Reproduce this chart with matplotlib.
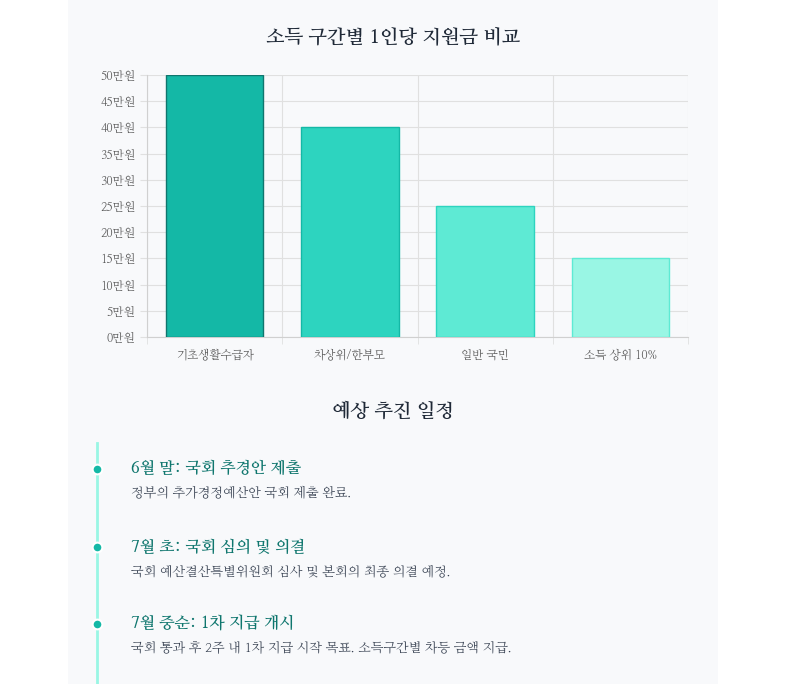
import matplotlib
matplotlib.use("Agg")
import matplotlib.pyplot as plt
from matplotlib import font_manager
from matplotlib.patches import Rectangle
from matplotlib.lines import Line2D

cjk = [f.name for f in font_manager.fontManager.ttflist if "CJK" in f.name or "Nanum" in f.name]
kr = [n for n in cjk if "KR" in n] + cjk
plt.rcParams["font.family"] = "sans-serif"
plt.rcParams["font.sans-serif"] = kr + ["Noto Sans CJK KR", "DejaVu Sans"]

categories = ["기초생활수급자", "차상위/한부모", "일반 국민", "소득 상위 10%"]
amounts = [50, 40, 25, 15]
bar_colors = ["#14b8a6", "#2dd4bf", "#5eead4", "#99f6e4"]
edge_colors = ["#0f766e", "#14b8a6", "#2dd4bf", "#5eead4"]

timeline_titles = ["6월 말: 국회 추경안 제출", "7월 초: 국회 심의 및 의결", "7월 중순: 1차 지급 개시"]
timeline_texts = [
    "정부의 추가경정예산안 국회 제출 완료.",
    "국회 예산결산특별위원회 심사 및 본회의 최종 의결 예정.",
    "국회 통과 후 2주 내 1차 지급 시작 목표. 소득구간별 차등 금액 지급.",
]

W, H = 790, 684
fig = plt.figure(figsize=(W / 100, H / 100), dpi=100)
fig.patches.append(Rectangle((68 / W, 0), 650 / W, 1, transform=fig.transFigure,
                             facecolor="#f8f9fb", edgecolor="none", zorder=-10))

def fx(x): return x / W
def fy(y): return 1 - y / H

fig.text(fx(393), fy(37), "소득 구간별 1인당 지원금 비교", ha="center", va="center",
         fontsize=14, fontweight="bold", color="#1f2937")

ax = fig.add_axes([fx(147), fy(337), (688 - 147) / W, (337 - 75) / H])
ax.set_facecolor("none")
x = range(len(categories))
ax.bar(x, amounts, width=0.72, color=bar_colors, edgecolor=edge_colors, linewidth=1, zorder=3)
ax.set_xlim(-0.5, len(categories) - 0.5)
ax.set_ylim(0, 50)
ax.set_yticks(range(0, 51, 5))
ax.set_yticklabels([f"{v}만원" for v in range(0, 51, 5)], fontsize=8.5, color="#555555")
ax.set_xticks(list(x))
ax.set_xticklabels(categories, fontsize=8.5, color="#555555")
ax.set_xticks([i + 0.5 for i in range(-1, len(categories))], minor=True)
ax.grid(axis="y", color="#e0e0e0", linewidth=0.8, zorder=0)
ax.grid(axis="x", which="minor", color="#e0e0e0", linewidth=0.8, zorder=0)
ax.tick_params(axis="x", which="major", length=0, pad=8)
ax.tick_params(axis="x", which="minor", length=5, color="#e0e0e0")
ax.tick_params(axis="y", length=5, color="#e0e0e0")
for s in ["top", "right"]:
    ax.spines[s].set_visible(False)
for s in ["left", "bottom"]:
    ax.spines[s].set_color("#d0d0d0")

fig.text(fx(393), fy(412), "예상 추진 일정", ha="center", va="center",
         fontsize=14, fontweight="bold", color="#1f2937")

fig.add_artist(Line2D([fx(97), fx(97)], [fy(443), fy(684)], color="#99f6e4", linewidth=2,
                      transform=fig.transFigure))
ys = [469, 547, 624]
for y, t, d in zip(ys, timeline_titles, timeline_texts):
    fig.add_artist(Line2D([fx(97)], [fy(y)], marker="o", markersize=7, color="#14b8a6",
                          markeredgecolor="white", markeredgewidth=1.5, transform=fig.transFigure))
    fig.text(fx(131), fy(y), t, ha="left", va="center", fontsize=11.5, fontweight="bold", color="#0f766e")
    fig.text(fx(131), fy(y + 25), d, ha="left", va="center", fontsize=9.5, color="#374151")

fig.savefig("out.png", dpi=100)
